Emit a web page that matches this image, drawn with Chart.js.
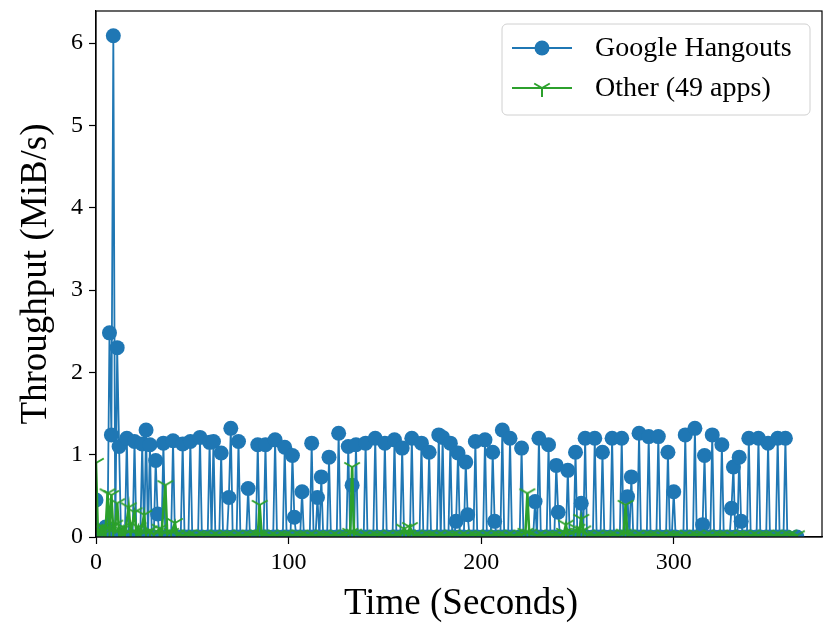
<!DOCTYPE html>
<html>
	<head>
		<title>Throughput</title>
		<meta charset="UTF-8">
		<script src="https://cdn.jsdelivr.net/npm/chart.js@4.4.1/dist/chart.umd.min.js"></script>
		<style>
			body { margin: 0; background: #fff; }
		</style>
	</head>
	<body>
		<canvas id="chart" width="826" height="626"></canvas>

		<script>
			// Google Hangouts throughput, time in seconds
			var blueTime = [0,1,3,5,6,7,8,9,10,11,12,13,15,16,17,19,20,21,23,24,25,26,27,28,29,30,31,32,33,34,35,36,39,40,41,44,45,46,48,49,50,53,54,55,58,59,60,61,62,64,65,66,68,69,70,71,73,74,75,78,79,80,83,84,85,87,88,89,92,93,94,97,98,99,101,102,103,104,106,107,108,111,112,113,114,115,116,117,118,120,121,122,125,126,127,130,131,132,133,134,135,136,139,140,141,144,145,146,149,150,151,154,155,156,158,159,160,163,164,165,168,169,170,172,173,174,177,178,179,180,181,183,184,185,186,187,188,189,191,192,193,194,196,197,198,201,202,203,205,206,207,208,210,211,212,214,215,216,220,221,222,227,228,229,230,231,234,235,236,238,239,240,241,244,245,246,248,249,250,251,252,253,254,255,258,259,260,262,263,264,267,268,269,272,273,274,275,276,277,278,279,281,282,283,286,287,288,291,292,293,296,297,298,299,300,301,305,306,307,310,311,312,314,315,316,317,319,320,321,324,325,326,329,330,331,332,333,334,335,336,338,339,340,343,344,345,348,349,350,353,354,355,357,358,359,364];
			var blueValue = [0.45,0,0,0.12,0,2.48,1.24,6.09,0,2.3,1.1,0,0,1.2,0,0,1.16,0,0,1.13,0,1.3,0,1.12,0,0,0.93,0.28,0,0,1.14,0,0,1.17,0,0,1.13,0,0,1.16,0,0,1.21,0,0,1.15,0,1.16,0,0,1.02,0,0,0.48,1.32,0,0,1.16,0,0,0.59,0,0,1.12,0,0,1.12,0,0,1.18,0,0,1.09,0,0,0.99,0.24,0,0,0.55,0,0,1.14,0,0,0.48,0,0.73,0,0,0.97,0,0,1.26,0,0,1.1,0,0.63,0,1.12,0,0,1.14,0,0,1.2,0,0,1.14,0,0,1.18,0,0,1.08,0,0,1.2,0,0,1.14,0,0,1.03,0,0,1.24,0,1.21,0,0,1.14,0,0,0.19,1.02,0,0,0.91,0.27,0,0,1.16,0,0,1.18,0,0,1.03,0.19,0,0,1.3,0,0,1.2,0,0,1.08,0,0,0.43,0,1.2,0,0,1.12,0,0,0.87,0.3,0,0,0.81,0,0,1.03,0,0,0.41,0,1.2,0,0,1.2,0,0,1.03,0,0,1.2,0,0,1.2,0,0,0.49,0,0.73,0,0,1.26,0,0,1.22,0,0,1.22,0,0,1.03,0,0,0.55,0,0,1.24,0,0,1.32,0,0,0.15,0.99,0,0,1.24,0,0,1.12,0,0,0.35,0.85,0,0,0.97,0.19,0,0,1.2,0,0,1.2,0,0,1.14,0,0,1.2,0,0,1.2,0,0];

			// Other (49 apps) throughput
			var otherTime = [0,1,2,3,4,5,6,7,8,9,10,11,12,13,14,15,17,18,20,21,22,23,25,26,28,30,33,34,36,37,39,41,42,45,48,52,56,60,64,68,72,76,80,84,85,86,90,94,98,102,106,110,114,118,122,126,130,132,133,134,138,142,146,150,154,158,160,162,163,165,169,173,177,181,185,189,193,197,201,205,209,213,217,221,223,224,225,229,233,237,241,243,244,245,248,250,251,252,253,255,259,263,267,271,274,275,276,280,284,288,292,296,300,304,308,312,316,320,324,328,332,336,340,344,348,352,356,360,364];
			var otherValue = [0.9,0.05,0.08,0.12,0.04,0.1,0.53,0.1,0.51,0.06,0.15,0.41,0.05,0.08,0.12,0.04,0.36,0.05,0.3,0.04,0.12,0.03,0.27,0.04,0.08,0.03,0.1,0.03,0.63,0.04,0.05,0.17,0.03,0.02,0.03,0.02,0.03,0.02,0.02,0.03,0.02,0.02,0.03,0.03,0.39,0.03,0.02,0.02,0.03,0.02,0.03,0.02,0.02,0.03,0.02,0.02,0.03,0.05,0.85,0.04,0.02,0.02,0.03,0.02,0.02,0.03,0.1,0.03,0.12,0.02,0.02,0.03,0.02,0.02,0.03,0.02,0.02,0.03,0.02,0.02,0.03,0.02,0.02,0.03,0.05,0.53,0.04,0.02,0.02,0.03,0.02,0.05,0.15,0.03,0.05,0.1,0.05,0.22,0.08,0.03,0.02,0.02,0.03,0.02,0.04,0.39,0.03,0.02,0.02,0.03,0.02,0.02,0.03,0.02,0.02,0.03,0.02,0.02,0.03,0.02,0.02,0.03,0.02,0.02,0.03,0.02,0.02,0.03,0.02];

			var xTicks = [0, 100, 200, 300];
			var yTicks = [0, 1, 2, 3, 4, 5, 6];
			var seriesNames = ['Google Hangouts', 'Other (49 apps)'];

			var blue = '#1f77b4';
			var green = '#2ca02c';
			var serif = '"Liberation Serif", "DejaVu Serif", serif';

			// tri_down marker ("Y" shape)
			function triDown(color, r){
				var c = document.createElement('canvas');
				var s = Math.ceil(r * 2 + 4);
				c.width = s; c.height = s;
				var g = c.getContext('2d');
				var m = s / 2;
				g.strokeStyle = color;
				g.lineWidth = 2;
				g.beginPath();
				g.moveTo(m, m); g.lineTo(m, m + r);
				g.moveTo(m, m); g.lineTo(m - r * 0.866, m - r * 0.5);
				g.moveTo(m, m); g.lineTo(m + r * 0.866, m - r * 0.5);
				g.stroke();
				return c;
			}
			var triMarker = triDown(green, 9);

			function pairs(xs, ys){
				return xs.map(function(x, i){ return {x: x, y: ys[i]}; });
			}

			var decorations = {
				id: 'decorations',
				afterDraw: function(chart){
					var ctx = chart.ctx;
					var a = chart.chartArea;
					ctx.save();
					// full frame
					ctx.strokeStyle = '#000';
					ctx.lineWidth = 1.2;
					ctx.strokeRect(a.left, a.top, a.right - a.left, a.bottom - a.top);

					// axis titles
					ctx.fillStyle = '#000';
					ctx.font = '37px ' + serif;
					ctx.textAlign = 'center';
					ctx.textBaseline = 'middle';
					ctx.fillText('Time (Seconds)', 461, 604);
					ctx.save();
					ctx.translate(36, 274);
					ctx.rotate(-Math.PI / 2);
					ctx.fillText('Throughput (MiB/s)', 0, 0);
					ctx.restore();

					// legend
					var bx = 502, by = 24, bw = 308, bh = 91, rr = 5;
					ctx.beginPath();
					ctx.moveTo(bx + rr, by);
					ctx.arcTo(bx + bw, by, bx + bw, by + bh, rr);
					ctx.arcTo(bx + bw, by + bh, bx, by + bh, rr);
					ctx.arcTo(bx, by + bh, bx, by, rr);
					ctx.arcTo(bx, by, bx + bw, by, rr);
					ctx.closePath();
					ctx.fillStyle = 'rgba(255,255,255,0.85)';
					ctx.fill();
					ctx.strokeStyle = '#d0d0d0';
					ctx.lineWidth = 1;
					ctx.stroke();

					var rows = [48, 88];
					ctx.lineWidth = 1.8;
					ctx.strokeStyle = blue;
					ctx.beginPath(); ctx.moveTo(512, rows[0]); ctx.lineTo(572, rows[0]); ctx.stroke();
					ctx.fillStyle = blue;
					ctx.beginPath(); ctx.arc(542, rows[0], 7.5, 0, Math.PI * 2); ctx.fill();
					ctx.strokeStyle = green;
					ctx.beginPath(); ctx.moveTo(512, rows[1]); ctx.lineTo(572, rows[1]); ctx.stroke();
					ctx.drawImage(triMarker, 542 - triMarker.width / 2, rows[1] - triMarker.height / 2);

					ctx.fillStyle = '#000';
					ctx.font = '28px ' + serif;
					ctx.textAlign = 'left';
					ctx.fillText(chart.data.datasets[0].label, 595, rows[0] + 1);
					ctx.fillText(chart.data.datasets[1].label, 595, rows[1] + 1);
					ctx.restore();
				}
			};

			new Chart(document.getElementById('chart'), {
				type: 'line',
				data: {
					datasets: [{
						label: seriesNames[0],
						data: pairs(blueTime, blueValue),
						borderColor: blue,
						backgroundColor: blue,
						borderWidth: 1.8,
						pointRadius: 7.5,
						pointBorderWidth: 0,
						pointBackgroundColor: blue,
						fill: false,
						tension: 0,
						order: 2
					}, {
						label: seriesNames[1],
						data: pairs(otherTime, otherValue),
						borderColor: green,
						backgroundColor: green,
						borderWidth: 2.5,
						pointStyle: triMarker,
						pointRadius: 9,
						fill: false,
						tension: 0,
						order: 1
					}]
				},
				options: {
					responsive: false,
					animation: false,
					devicePixelRatio: 1,
					layout: { autoPadding: false, padding: { top: 11, right: 4, left: 0, bottom: 0 } },
					plugins: {
						legend: { display: false },
						tooltip: { enabled: false }
					},
					scales: {
						x: {
							type: 'linear',
							min: 0,
							max: 377,
							afterFit: function(s){ s.height = 89; s.paddingLeft = 0; s.paddingRight = 0; },
							afterBuildTicks: function(s){ s.ticks = xTicks.map(function(v){ return {value: v}; }); },
							ticks: { color: '#000', font: { family: serif, size: 24 }, padding: 4, maxRotation: 0 },
							grid: { drawOnChartArea: false, tickLength: 7, tickColor: '#000', tickWidth: 1.2 },
							border: { color: '#000', width: 1.2 }
						},
						y: {
							min: 0,
							max: 6.39,
							afterFit: function(s){ s.width = 96; s.paddingTop = 0; s.paddingBottom = 0; },
							afterBuildTicks: function(s){ s.ticks = yTicks.map(function(v){ return {value: v}; }); },
							ticks: { color: '#000', font: { family: serif, size: 24 }, padding: 6 },
							grid: { drawOnChartArea: false, tickLength: 7, tickColor: '#000', tickWidth: 1.2 },
							border: { color: '#000', width: 1.2 }
						}
					}
				},
				plugins: [decorations]
			});
		</script>
	</body>
</html>
